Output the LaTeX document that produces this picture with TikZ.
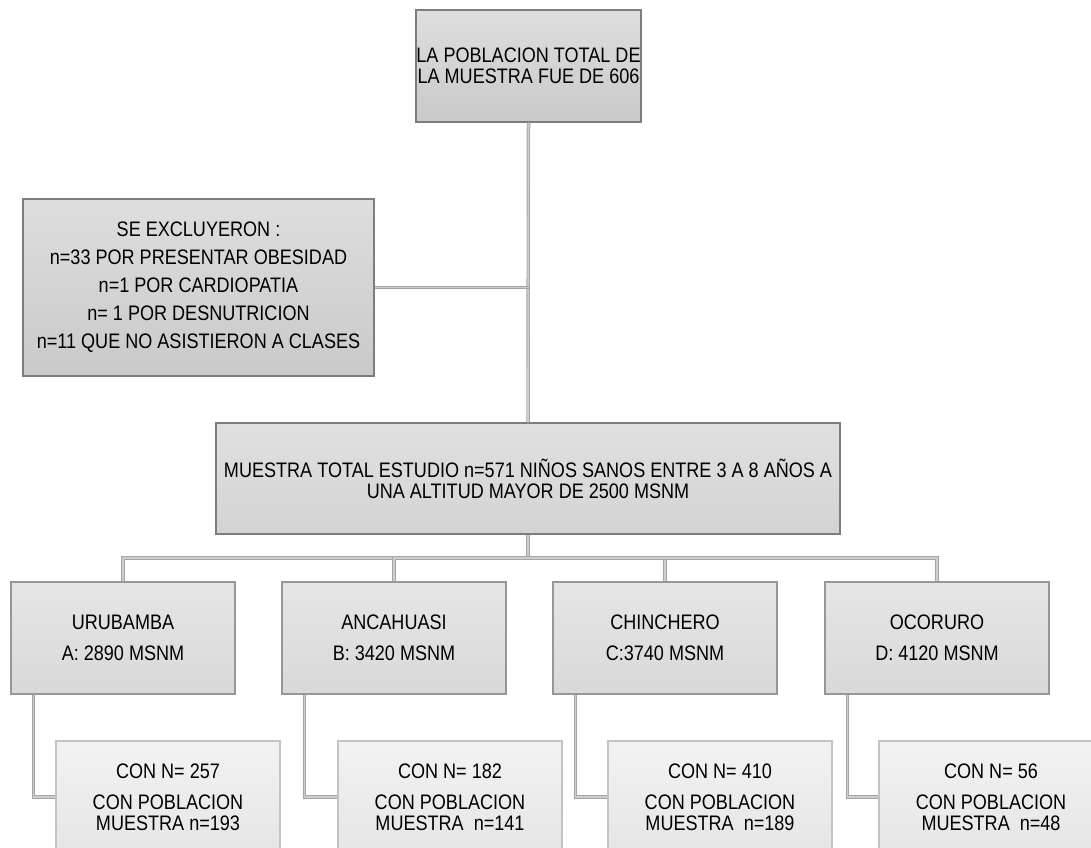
\documentclass[tikz,border=0pt]{standalone}
\usepackage{fontspec}
\setmainfont[FakeStretch=0.86]{Liberation Sans}
\usepackage{tikz}
\definecolor{edgedark}{RGB}{125,125,125}
\definecolor{edgelight}{RGB}{196,196,196}
\definecolor{linkedge}{RGB}{165,165,165}
\definecolor{linkfill}{RGB}{205,205,205}
\newcommand{\boxfont}{\fontsize{21}{21}\selectfont}

\begin{document}
\begin{tikzpicture}[x=1pt,y=-1pt,
		darkbox/.style={draw=edgedark,line width=1.2pt,top color=black!13,bottom color=black!21,inner sep=0pt,minimum height=112pt,align=center,font=\boxfont},
		sitebox/.style={draw=edgedark!80,line width=1.1pt,top color=black!10,bottom color=black!15,inner sep=0pt,minimum width=224pt,minimum height=112pt,align=center,font=\boxfont},
		samplebox/.style={draw=edgelight,line width=1.1pt,top color=black!5,bottom color=black!10,inner sep=0pt,minimum width=224pt,minimum height=112pt,align=center,font=\boxfont},
		link/.style={draw=linkedge,line width=0.9pt,double=linkfill,double distance=1.7pt}]
			\useasboundingbox (0,0) rectangle (1091,847);
			\coordinate (p_top) at (528.5,66);
			\coordinate (p_excl) at (198.5,287.5);
			\coordinate (p_total) at (528,478.5);
			\coordinate (bus) at (528,558);
	
			\node[darkbox,minimum width=225pt] (pob) at (p_top) {LA POBLACION TOTAL DE\\LA MUESTRA FUE DE 606};
			\node[darkbox,minimum width=351pt,minimum height=177pt] (excl) at (p_excl) {SE EXCLUYERON :\\[7pt]n=33 POR PRESENTAR OBESIDAD\\[7pt]n=1 POR CARDIOPATIA\\[7pt]n= 1 POR DESNUTRICION\\[7pt]n=11 QUE NO ASISTIERON A CLASES};
			\node[darkbox,minimum width=624pt,minimum height=111pt,top color=black!12,bottom color=black!17] (total) at (p_total) {MUESTRA TOTAL ESTUDIO n=571 NI\~NOS SANOS ENTRE 3 A 8 A\~NOS A\\UNA ALTITUD MAYOR DE 2500 MSNM};
	
			\node[sitebox] (uru) at (123,638) {URUBAMBA\\[10pt]A: 2890 MSNM};
			\node[sitebox] (anc) at (394,638) {ANCAHUASI\\[10pt]B: 3420 MSNM};
			\node[sitebox] (chi) at (665,638) {CHINCHERO\\[10pt]C:3740 MSNM};
			\node[sitebox] (oco) at (937,638) {OCORURO\\[10pt]D: 4120 MSNM};
	
			\node[samplebox] (uruN) at (168,797) {CON N= 257\\[10pt]CON POBLACION\\MUESTRA n=193};
			\node[samplebox] (ancN) at (450,797) {CON N= 182\\[10pt]CON POBLACION\\MUESTRA\ \ n=141};
			\node[samplebox] (chiN) at (720,797) {CON N= 410\\[10pt]CON POBLACION\\MUESTRA\ \ n=189};
			\node[samplebox] (ocoN) at (991,797) {CON N= 56\\[10pt]CON POBLACION\\MUESTRA\ \ n=48};
			
			\draw[link] (pob.south) -- (total.north);
			\draw[link] (excl.east) -- (excl.east -| pob.south);
			\draw[link] (total.south) -- (bus);
			\foreach \s in {uru,anc,chi,oco}
				\draw[link] (bus) -| (\s.north);
			\foreach \s in {uru,anc,chi,oco}
				\draw[link] ([xshift=23pt]\s.south west) |- (\s N.west);
		\end{tikzpicture}
\end{document}
